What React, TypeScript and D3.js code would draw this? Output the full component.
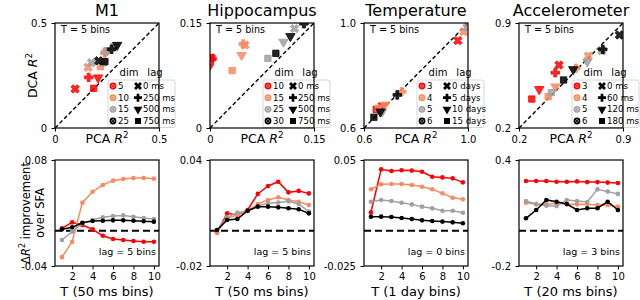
import React, { useEffect, useRef } from "react";
import * as d3 from "d3";

// ---- data ----
const titles = ["M1", "Hippocampus", "Temperature", "Accelerometer"];
const dimColors = ["#ff0000", "#f98a60", "#a0a0a0", "#000000"];

const dimLabels = [
  ["5", "10", "15", "25"],
  ["10", "15", "25", "30"],
  ["3", "4", "5", "6"],
  ["3", "4", "5", "6"],
];
const lagLabels = [
  ["0 ms", "250 ms", "500 ms", "750 ms"],
  ["0 ms", "250 ms", "500 ms", "750 ms"],
  ["0 days", "5 days", "10 days", "15 days"],
  ["0 ms", "60 ms", "120 ms", "180 ms"],
];

const scatterDomains = [
  [0, 0.5],
  [0, 0.15],
  [0.6, 1.0],
  [0.2, 0.9],
];
const scatterTickLabels = [
  ["0", "0.5"],
  ["0", "0.15"],
  ["0.6", "1.0"],
  ["0.2", "0.9"],
];

// [PCA R2, DCA R2, dim index, lag index]
const m1Scatter = [
  [0.097, 0.186, 0, 0],
  [0.162, 0.241, 0, 1],
  [0.207, 0.24, 0, 2],
  [0.186, 0.189, 0, 3],
  [0.159, 0.289, 1, 0],
  [0.239, 0.356, 1, 1],
  [0.252, 0.368, 1, 2],
  [0.218, 0.292, 1, 3],
  [0.175, 0.311, 2, 0],
  [0.243, 0.363, 2, 1],
  [0.288, 0.39, 2, 2],
  [0.232, 0.31, 2, 3],
  [0.21, 0.32, 3, 0],
  [0.272, 0.375, 3, 1],
  [0.299, 0.395, 3, 2],
  [0.24, 0.316, 3, 3],
];
const hcScatter = [
  [0.002, 0.1, 0, 0],
  [0.003, 0.099, 0, 1],
  [-0.001, 0.088, 0, 2],
  [0.0505, 0.1186, 1, 0],
  [0.048, 0.12, 1, 1],
  [0.0456, 0.104, 1, 2],
  [0.032, 0.082, 1, 3],
  [0.122, 0.142, 2, 0],
  [0.106, 0.123, 2, 2],
  [0.0835, 0.0995, 2, 3],
  [0.1355, 0.149, 3, 1],
  [0.116, 0.131, 3, 2],
  [0.095, 0.1067, 3, 3],
];
const tempScatter = [
  [0.961, 0.933, 0, 0],
  [0.672, 0.685, 0, 2],
  [0.647, 0.671, 0, 3],
  [0.984, 0.967, 1, 0],
  [0.745, 0.738, 1, 1],
  [0.68, 0.688, 1, 2],
  [0.655, 0.675, 1, 3],
  [0.996, 0.983, 2, 0],
  [0.67, 0.662, 2, 2],
  [0.728, 0.726, 3, 1],
  [0.663, 0.662, 3, 2],
  [0.638, 0.641, 3, 3],
];
const accelScatter = [
  [0.469, 0.62, 0, 0],
  [0.444, 0.569, 0, 1],
  [0.336, 0.458, 0, 2],
  [0.286, 0.393, 0, 3],
  [0.667, 0.68, 1, 0],
  [0.583, 0.598, 1, 1],
  [0.446, 0.476, 1, 2],
  [0.396, 0.409, 1, 3],
  [0.757, 0.715, 2, 0],
  [0.66, 0.642, 2, 2],
  [0.418, 0.436, 2, 3],
  [0.876, 0.82, 3, 0],
  [0.764, 0.724, 3, 1],
  [0.565, 0.591, 3, 2],
  [0.5, 0.52, 3, 3],
];
const scatterData = [m1Scatter, hcScatter, tempScatter, accelScatter];

const tBins = [1, 2, 3, 4, 5, 6, 7, 8, 9, 10];

// one row per dim colour: red, salmon, gray, black
const m1Lines = [
  [0.0026, 0.0094, 0.0064, 0.0015, -0.0057, -0.0094, -0.0106, -0.0117, -0.0125, -0.0125],
  [-0.03, -0.0125, 0.0317, 0.0441, 0.0517, 0.0566, 0.0585, 0.0596, 0.0596, 0.0589],
  [-0.0106, -0.0011, 0.0083, 0.012, 0.0151, 0.0166, 0.0173, 0.0158, 0.0143, 0.0132],
  [0.0015, 0.0038, 0.009, 0.011, 0.0113, 0.0117, 0.0117, 0.0113, 0.0106, 0.0102],
];
const hcLines = [
  [-0.0011, 0.0098, 0.0089, 0.0117, 0.0208, 0.0253, 0.0277, 0.0217, 0.0225, 0.0211],
  [-0.0011, 0.007, 0.0089, 0.0111, 0.0151, 0.0174, 0.0189, 0.0174, 0.0164, 0.0145],
  [0.0004, 0.0075, 0.0102, 0.0111, 0.014, 0.0155, 0.0159, 0.0166, 0.0151, 0.0108],
  [0.0004, 0.006, 0.0066, 0.0113, 0.0136, 0.0136, 0.0132, 0.0127, 0.0121, 0.0098],
];
const tempLines = [
  [0.013, 0.0434, 0.0422, 0.0427, 0.0425, 0.0417, 0.0382, 0.0377, 0.037, 0.0342],
  [0.0293, 0.0328, 0.033, 0.033, 0.0323, 0.0311, 0.0293, 0.0264, 0.0233, 0.0222],
  [0.0205, 0.0217, 0.021, 0.0198, 0.0186, 0.017, 0.0158, 0.0141, 0.0141, 0.0127],
  [0.0099, 0.0099, 0.0097, 0.009, 0.0083, 0.0073, 0.0068, 0.0064, 0.0059, 0.0052],
];
const accelLines = [
  [0.281, 0.281, 0.281, 0.277, 0.277, 0.279, 0.275, 0.275, 0.272, 0.27],
  [0.158, 0.149, 0.149, 0.155, 0.149, 0.149, 0.149, 0.145, 0.145, 0.136],
  [0.168, 0.151, 0.141, 0.139, 0.174, 0.168, 0.162, 0.234, 0.221, 0.208],
  [0.07, 0.117, 0.174, 0.164, 0.151, 0.117, 0.127, 0.127, 0.164, 0.117],
];
const lineData = [m1Lines, hcLines, tempLines, accelLines];

const lineDomains = [
  [-0.04, 0.08],
  [-0.02, 0.04],
  [-0.025, 0.05],
  [-0.2, 0.4],
];
const lineTickLabels = [
  ["-0.04", "0.08"],
  ["-0.02", "0.04"],
  ["-0.025", "0.05"],
  ["-0.2", "0.4"],
];
const xTicks = [2, 4, 6, 8, 10];
const xLabels = ["T (50 ms bins)", "T (50 ms bins)", "T (1 day bins)", "T (20 ms bins)"];
const lagNotes = ["lag = 5 bins", "lag = 5 bins", "lag = 0 bins", "lag = 3 bins"];

// ---- layout ----
const panelLefts = [55, 210, 364, 519];
const panelW = 104;
const topY = [23, 128];
const botY = [160, 266];
const FONT = "DejaVu Sans";

const markerPath = (lag: number, size = 1) => {
  if (lag === 0) return d3.symbol(d3.symbolCross, 44 * size)();
  if (lag === 1) return d3.symbol(d3.symbolCross, 40 * size)();
  if (lag === 2) return d3.symbol(d3.symbolTriangle, 38 * size)();
  return d3.symbol(d3.symbolSquare, 40 * size)();
};
const markerRot = [45, 0, 180, 0];

type Part = { t: string; it?: boolean; sup?: boolean };

function richText(g: any, parts: Part[], size: number) {
  const txt = g.append("text").attr("font-size", size).attr("font-family", FONT);
  let raised = false;
  parts.forEach((p) => {
    const ts = txt.append("tspan").text(p.t);
    if (p.it) ts.attr("font-style", "italic");
    if (p.sup) {
      ts.attr("font-size", size * 0.7).attr("dy", -size * 0.4);
      raised = true;
    } else if (raised) {
      ts.attr("dy", size * 0.4);
      raised = false;
    }
  });
  return txt;
}

const App = () => {
  const svgRef = useRef<SVGSVGElement>(null);

  useEffect(() => {
    const svg = d3.select(svgRef.current);
    svg.selectAll("*").remove();
    const defs = svg.append("defs");

    titles.forEach((title, i) => {
      const left = panelLefts[i];
      const right = left + panelW;
      const cx = (left + right) / 2;

      // ---------- top scatter ----------
      const dom = scatterDomains[i];
      const x = d3.scaleLinear().domain(dom).range([left, right]);
      const y = d3.scaleLinear().domain(dom).range([topY[1], topY[0]]);

      defs
        .append("clipPath")
        .attr("id", `clip${i}`)
        .append("rect")
        .attr("x", left)
        .attr("y", topY[0])
        .attr("width", panelW)
        .attr("height", topY[1] - topY[0]);

      svg
        .append("text")
        .attr("x", cx)
        .attr("y", 16)
        .attr("text-anchor", "middle")
        .attr("font-family", FONT)
        .attr("font-size", 16)
        .text(title);

      svg
        .append("line")
        .attr("x1", x(dom[0]))
        .attr("y1", y(dom[0]))
        .attr("x2", x(dom[1]))
        .attr("y2", y(dom[1]))
        .attr("stroke", "#000")
        .attr("stroke-width", 1.4)
        .attr("stroke-dasharray", "4,2.5");

      const pts = svg.append("g").attr("clip-path", `url(#clip${i})`);
      pts
        .selectAll("path")
        .data(scatterData[i])
        .enter()
        .append("path")
        .attr("d", (d) => markerPath(d[3]))
        .attr(
          "transform",
          (d) => `translate(${x(d[0])},${y(d[1])}) rotate(${markerRot[d[3]]})`
        )
        .attr("fill", (d) => dimColors[d[2]])
        .attr("fill-opacity", 0.85)
        .attr("stroke", (d) => dimColors[d[2]])
        .attr("stroke-width", 0.8);

      svg
        .append("text")
        .attr("x", left + 6)
        .attr("y", 32.5)
        .attr("font-family", FONT)
        .attr("font-size", 9.6)
        .text("T = 5 bins");

      // legend
      const lx = right - 51;
      svg
        .append("text")
        .attr("x", right - 30)
        .attr("y", 76)
        .attr("text-anchor", "middle")
        .attr("font-family", FONT)
        .attr("font-size", 10)
        .text("dim");
      svg
        .append("text")
        .attr("x", right - 4)
        .attr("y", 76)
        .attr("text-anchor", "middle")
        .attr("font-family", FONT)
        .attr("font-size", 10)
        .text("lag");
      svg
        .append("rect")
        .attr("x", lx)
        .attr("y", 80)
        .attr("width", 67)
        .attr("height", 47.5)
        .attr("rx", 2)
        .attr("fill", "#fff")
        .attr("fill-opacity", 0.85)
        .attr("stroke", "#cccccc")
        .attr("stroke-width", 0.8);
      const rowY = d3.scaleLinear().domain([0, 3]).range([86, 121]);
      dimLabels[i].forEach((lab, j) => {
        const ry = rowY(j);
        svg
          .append("circle")
          .attr("cx", lx + 5)
          .attr("cy", ry)
          .attr("r", 3.4)
          .attr("fill", dimColors[j]);
        svg
          .append("circle")
          .attr("cx", lx + 5)
          .attr("cy", ry)
          .attr("r", 1.5)
          .attr("fill", "none")
          .attr("stroke", "#fff")
          .attr("stroke-opacity", 0.55)
          .attr("stroke-width", 0.8);
        svg
          .append("text")
          .attr("x", lx + 10)
          .attr("y", ry + 3)
          .attr("font-family", FONT)
          .attr("font-size", 8.6)
          .text(lab);
        svg
          .append("path")
          .attr("d", markerPath(j, 0.9))
          .attr("transform", `translate(${lx + 30},${ry}) rotate(${markerRot[j]})`)
          .attr("fill", "#000");
        svg
          .append("text")
          .attr("x", lx + 35)
          .attr("y", ry + 3)
          .attr("font-family", FONT)
          .attr("font-size", 8.6)
          .text(lagLabels[i][j]);
      });

      // spines & ticks
      svg
        .append("rect")
        .attr("x", left)
        .attr("y", topY[0])
        .attr("width", panelW)
        .attr("height", topY[1] - topY[0])
        .attr("fill", "none")
        .attr("stroke", "#000")
        .attr("stroke-width", 1.2);

      const xa = svg
        .append("g")
        .attr("transform", `translate(0,${topY[1]})`)
        .call(
          d3
            .axisBottom(x)
            .tickValues(dom)
            .tickSize(3.5)
            .tickPadding(4)
            .tickFormat((_d, j) => scatterTickLabels[i][j])
        );
      const ya = svg
        .append("g")
        .attr("transform", `translate(${left},0)`)
        .call(
          d3
            .axisLeft(y)
            .tickValues(dom)
            .tickSize(3.5)
            .tickPadding(4.5)
            .tickFormat((_d, j) => scatterTickLabels[i][j])
        );
      [xa, ya].forEach((a) => {
        a.select(".domain").remove();
        a.selectAll("text").attr("font-family", FONT).attr("font-size", 10);
        a.selectAll("line").attr("stroke-width", 1);
      });

      richText(svg, [{ t: "PCA " }, { t: "R", it: true }, { t: "2", sup: true }], 12.5)
        .attr("x", cx)
        .attr("y", 143)
        .attr("text-anchor", "middle");

      if (i === 0) {
        richText(svg, [{ t: "DCA " }, { t: "R", it: true }, { t: "2", sup: true }], 12.5)
          .attr("text-anchor", "middle")
          .attr("transform", `translate(37,${(topY[0] + topY[1]) / 2}) rotate(-90)`);
      }

      // ---------- bottom lines ----------
      const lx2 = d3.scaleLinear().domain([0.32, 10.5]).range([left, right]);
      const ly2 = d3.scaleLinear().domain(lineDomains[i]).range([botY[1], botY[0]]);

      svg
        .append("line")
        .attr("x1", left)
        .attr("x2", right)
        .attr("y1", ly2(0))
        .attr("y2", ly2(0))
        .attr("stroke", "#000")
        .attr("stroke-width", 2)
        .attr("stroke-dasharray", "7,4");

      const line = d3
        .line<number>()
        .x((_d, k) => lx2(tBins[k]))
        .y((d) => ly2(d));

      lineData[i].forEach((series, s) => {
        svg
          .append("path")
          .datum(series)
          .attr("d", line)
          .attr("fill", "none")
          .attr("stroke", dimColors[s])
          .attr("stroke-width", 1.5);
        svg
          .append("g")
          .selectAll("circle")
          .data(series)
          .enter()
          .append("circle")
          .attr("cx", (_d, k) => lx2(tBins[k]))
          .attr("cy", (d) => ly2(d))
          .attr("r", 2.3)
          .attr("fill", dimColors[s]);
      });

      svg
        .append("text")
        .attr("x", right - 3)
        .attr("y", 255)
        .attr("text-anchor", "end")
        .attr("font-family", FONT)
        .attr("font-size", 9.5)
        .text(lagNotes[i]);

      svg
        .append("rect")
        .attr("x", left)
        .attr("y", botY[0])
        .attr("width", panelW)
        .attr("height", botY[1] - botY[0])
        .attr("fill", "none")
        .attr("stroke", "#000")
        .attr("stroke-width", 1.2);

      const bx = svg
        .append("g")
        .attr("transform", `translate(0,${botY[1]})`)
        .call(
          d3.axisBottom(lx2).tickValues(xTicks).tickSize(3.5).tickPadding(3).tickFormat(d3.format("d"))
        );
      const by = svg
        .append("g")
        .attr("transform", `translate(${left},0)`)
        .call(
          d3
            .axisLeft(ly2)
            .tickValues(lineDomains[i])
            .tickSize(3.5)
            .tickPadding(4.5)
            .tickFormat((_d, j) => lineTickLabels[i][j])
        );
      [bx, by].forEach((a) => {
        a.select(".domain").remove();
        a.selectAll("text").attr("font-family", FONT).attr("font-size", 10);
        a.selectAll("line").attr("stroke-width", 1);
      });

      svg
        .append("text")
        .attr("x", cx)
        .attr("y", 296)
        .attr("text-anchor", "middle")
        .attr("font-family", FONT)
        .attr("font-size", 13)
        .text(xLabels[i]);

      if (i === 0) {
        const my = (botY[0] + botY[1]) / 2;
        richText(
          svg,
          [{ t: "Δ" }, { t: "R", it: true }, { t: "2", sup: true }, { t: " improvement" }],
          11.5
        )
          .attr("text-anchor", "middle")
          .attr("transform", `translate(30,${my}) rotate(-90)`);
        svg
          .append("text")
          .attr("text-anchor", "middle")
          .attr("font-family", FONT)
          .attr("font-size", 11.5)
          .attr("transform", `translate(44,${my}) rotate(-90)`)
          .text("over SFA");
      }
    });
  }, []);

  return (
    <svg
      ref={svgRef}
      width={640}
      height={300}
      style={{ position: "absolute", left: 0, top: 0, background: "#fff" }}
    ></svg>
  );
};

export default App;
